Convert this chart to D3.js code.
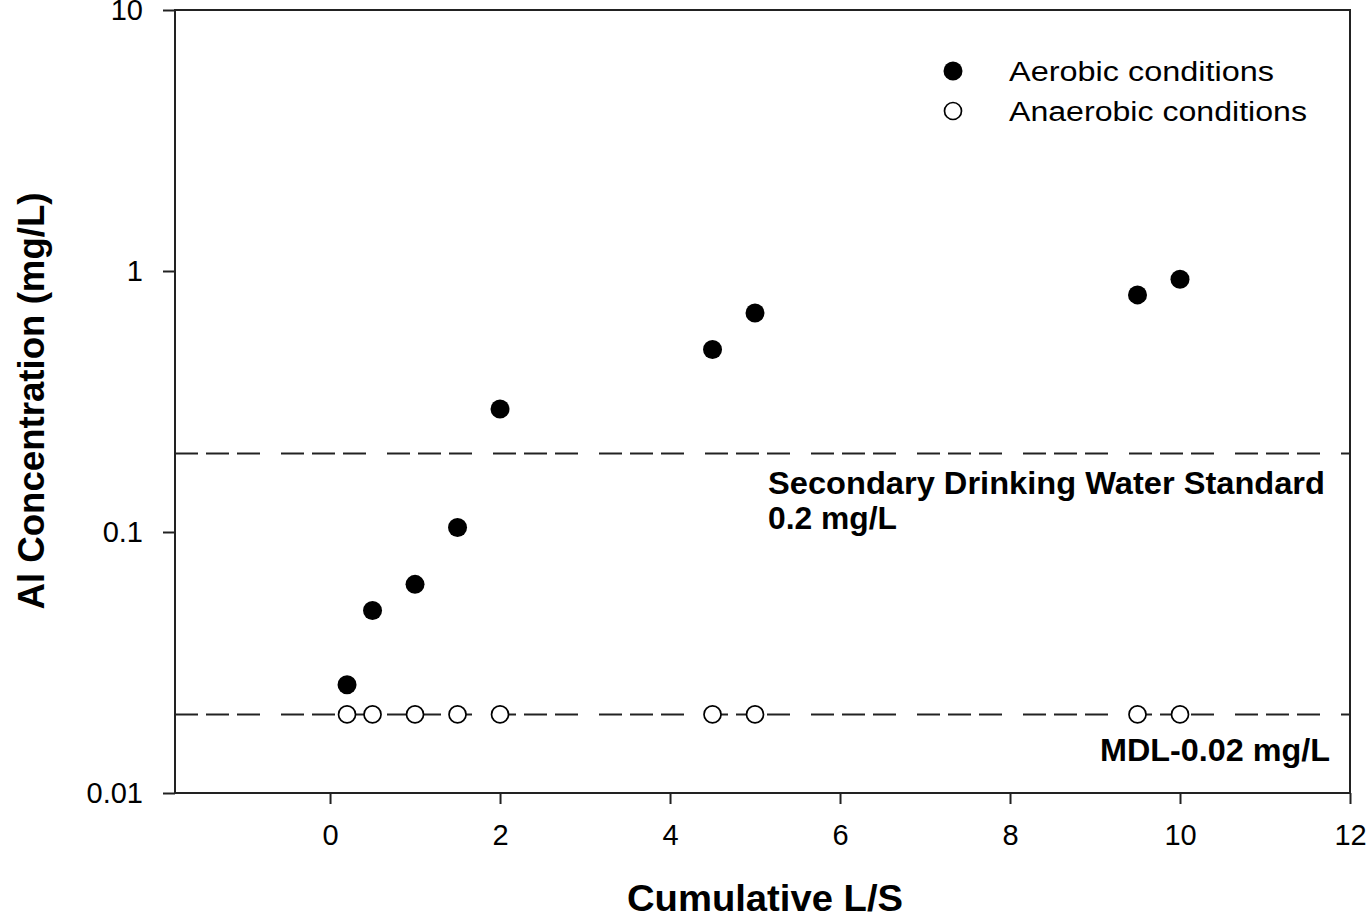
<!DOCTYPE html>
<html>
<head>
<meta charset="utf-8">
<script src="https://cdn.jsdelivr.net/npm/d3@7"></script>
<style>
  body { margin: 0; background: #fff; }
  text { font-family: "Liberation Sans", Arial, sans-serif; fill: #000; }
</style>
</head>
<body>
<svg id="chart" width="1371" height="919"></svg>
<script>
// data
var cumLS      = [0.2, 0.5, 1, 1.5, 2, 4.5, 5, 9.5, 10];
var aerobic    = [0.026, 0.05, 0.063, 0.104, 0.296, 0.50, 0.69, 0.81, 0.93];
var anaerobic  = [0.02, 0.02, 0.02, 0.02, 0.02, 0.02, 0.02, 0.02, 0.02];
var xTicks     = [0, 2, 4, 6, 8, 10, 12];
var yTicks     = [0.01, 0.1, 1, 10];
var refLevels  = [0.2, 0.02];   // drinking water standard, MDL

var svg = d3.select("#chart");
var margin = {top: 10, right: 21, bottom: 126, left: 175};
var width = +svg.attr("width") - margin.left - margin.right,
    height = +svg.attr("height") - margin.top - margin.bottom;

var x = d3.scaleLinear().domain([-1.824, 12]).range([0, width]);
var y = d3.scaleLog().domain([0.01, 10]).range([height, 0]);

var g = svg.append("g")
    .attr("transform", "translate(" + margin.left + "," + margin.top + ")");

// reference lines (dashed)
g.selectAll(".ref")
  .data(refLevels).enter()
  .append("line")
    .attr("class", "ref")
    .attr("x1", 0).attr("x2", width)
    .attr("y1", function(d) { return y(d); })
    .attr("y2", function(d) { return y(d); })
    .style("stroke", "#222")
    .style("stroke-width", 2)
    .style("stroke-dasharray", "23,8,23,8,23,21");

// frame
g.append("rect")
    .attr("width", width).attr("height", height)
    .style("fill", "none").style("stroke", "#222").style("stroke-width", 2);

var xAxis = d3.axisBottom(x).tickValues(xTicks).tickSize(11).tickPadding(20)
    .tickFormat(d3.format("d"));
var yAxis = d3.axisLeft(y).tickValues(yTicks).tickSize(12).tickPadding(20)
    .tickFormat(function(d) { return d >= 1 ? d3.format("d")(d) : String(d); });

var gx = g.append("g").attr("transform", "translate(0," + height + ")").call(xAxis);
var gy = g.append("g").call(yAxis);
[gx, gy].forEach(function(a) {
  a.select(".domain").remove();
  a.selectAll(".tick line").style("stroke", "#222").style("stroke-width", 2);
  a.selectAll(".tick text").style("font-size", "29px").style("font-family", "Liberation Sans, Arial, sans-serif").attr("fill", "#000");
});

// open symbols (anaerobic)
g.selectAll(".anaer")
  .data(cumLS).enter()
  .append("circle")
    .attr("class", "anaer")
    .attr("cx", function(d) { return x(d); })
    .attr("cy", function(d, i) { return y(anaerobic[i]); })
    .attr("r", 8.5)
    .style("fill", "#fff").style("stroke", "#000").style("stroke-width", 1.7);

// filled symbols (aerobic)
g.selectAll(".aer")
  .data(cumLS).enter()
  .append("circle")
    .attr("class", "aer")
    .attr("cx", function(d) { return x(d); })
    .attr("cy", function(d, i) { return y(aerobic[i]); })
    .attr("r", 9.5)
    .style("fill", "#000");

// annotations
svg.append("text").attr("x", 768).attr("y", 494)
    .attr("textLength", 557).attr("lengthAdjust", "spacingAndGlyphs")
    .style("font-size", "31px").style("font-weight", "bold")
    .text("Secondary Drinking Water Standard");
svg.append("text").attr("x", 768).attr("y", 529)
    .attr("textLength", 129).attr("lengthAdjust", "spacingAndGlyphs")
    .style("font-size", "31px").style("font-weight", "bold")
    .text("0.2 mg/L");
svg.append("text").attr("x", 1100).attr("y", 761)
    .attr("textLength", 230).attr("lengthAdjust", "spacingAndGlyphs")
    .style("font-size", "31px").style("font-weight", "bold")
    .text("MDL-0.02 mg/L");

// legend
var legend = [
  {label: "Aerobic conditions", fill: "#000", w: 265},
  {label: "Anaerobic conditions", fill: "#fff", w: 298}
];
var lg = svg.append("g").selectAll("g").data(legend).enter().append("g")
    .attr("transform", function(d, i) { return "translate(953," + (71 + i * 40) + ")"; });
lg.append("circle").attr("r", function(d, i) { return i ? 8.5 : 9.5; })
    .style("fill", function(d) { return d.fill; })
    .style("stroke", "#000").style("stroke-width", function(d, i) { return i ? 1.7 : 0; });
lg.append("text").attr("x", 56).attr("y", 10)
    .attr("textLength", function(d) { return d.w; }).attr("lengthAdjust", "spacingAndGlyphs")
    .style("font-size", "27px")
    .text(function(d) { return d.label; });

// axis titles
svg.append("text")
    .attr("transform", "translate(44,401) rotate(-90)")
    .attr("text-anchor", "middle")
    .attr("textLength", 417).attr("lengthAdjust", "spacingAndGlyphs")
    .style("font-size", "36px").style("font-weight", "bold")
    .text("Al Concentration (mg/L)");
svg.append("text")
    .attr("x", 765).attr("y", 911)
    .attr("text-anchor", "middle")
    .attr("textLength", 276).attr("lengthAdjust", "spacingAndGlyphs")
    .style("font-size", "36px").style("font-weight", "bold")
    .text("Cumulative L/S");
</script>
</body>
</html>
